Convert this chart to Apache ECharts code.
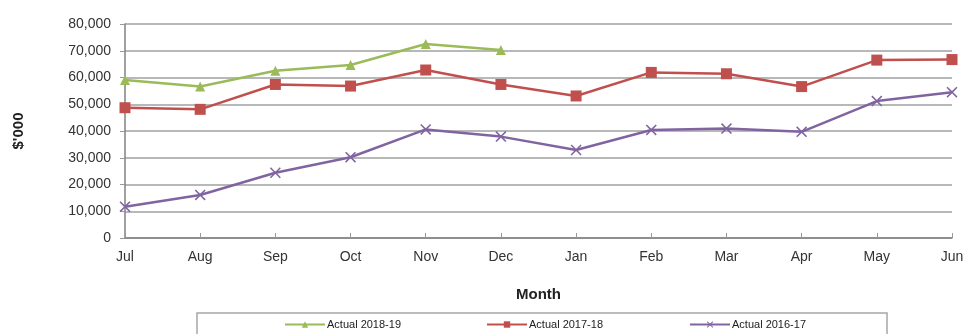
<!DOCTYPE html>
<html>
<head>
<meta charset="utf-8">
<script src="https://cdn.jsdelivr.net/npm/echarts@6/dist/echarts.min.js"></script>
<style>
  html, body { margin: 0; padding: 0; background: #fff; }
  #chart { width: 965px; height: 334px; }
</style>
</head>
<body>
<div id="chart"></div>
<script>
// Monthly actuals ($'000) by financial year
const months = ['Jul', 'Aug', 'Sep', 'Oct', 'Nov', 'Dec', 'Jan', 'Feb', 'Mar', 'Apr', 'May', 'Jun'];
const actual201819 = [59100, 56600, 62500, 64700, 72500, 70300, null, null, null, null, null, null];
const actual201718 = [48700, 48100, 57400, 56800, 62800, 57400, 53100, 61900, 61400, 56600, 66500, 66700];
const actual201617 = [11700, 16100, 24400, 30200, 40600, 37900, 32900, 40400, 40900, 39700, 51200, 54500];
const seriesNames = ['Actual 2018-19', 'Actual 2017-18', 'Actual 2016-17'];

const FONT = '"Liberation Sans", Arial, sans-serif';
const crossPath = 'path://M0,1L1,0L5,4L9,0L10,1L6,5L10,9L9,10L5,6L1,10L0,9L4,5Z';

const chart = echarts.init(document.getElementById('chart'), null, { renderer: 'canvas' });

function legendAt(name, left) {
  return {
    data: [name],
    left: left,
    top: 319,
    itemWidth: 40,
    itemHeight: 8,
    itemGap: 0,
    padding: 0,
    textStyle: { fontFamily: FONT, fontSize: 11, color: '#222', padding: [0, 0, 0, -3] },
    selectedMode: false
  };
}

chart.setOption({
  animation: false,
  backgroundColor: '#fff',
  grid: { left: 125, right: 13, top: 24, bottom: 96, outerBoundsMode: 'none', containLabel: false },
  graphic: [{
    type: 'rect',
    shape: { x: 197, y: 313, width: 690, height: 40 },
    style: { fill: 'none', stroke: '#a6a6a6', lineWidth: 1.5 },
    silent: true
  }],
  legend: [
    legendAt(seriesNames[0], 284),
    legendAt(seriesNames[1], 486),
    legendAt(seriesNames[2], 689)
  ],
  xAxis: {
    type: 'category',
    data: months,
    boundaryGap: false,
    name: 'Month',
    nameLocation: 'middle',
    nameGap: 49,
    nameTextStyle: { fontFamily: FONT, fontSize: 15, fontWeight: 'bold', color: '#222' },
    axisLine: { lineStyle: { color: '#808080', width: 1.5 } },
    axisTick: { show: true, inside: true, length: 5, alignWithLabel: true, lineStyle: { color: '#999' } },
    axisLabel: { fontFamily: FONT, fontSize: 14, color: '#333', margin: 12 },
    splitLine: { show: false }
  },
  yAxis: {
    type: 'value',
    min: 0,
    max: 80000,
    interval: 10000,
    name: "$'000",
    nameLocation: 'middle',
    nameGap: 99,
    nameRotate: 90,
    nameTextStyle: { fontFamily: FONT, fontSize: 15, fontWeight: 'bold', color: '#222' },
    axisLine: { show: true, lineStyle: { color: '#808080', width: 1.5 } },
    axisTick: { show: true, length: 5, lineStyle: { color: '#999' } },
    axisLabel: {
      fontFamily: FONT, fontSize: 14, color: '#333', margin: 14,
      formatter: v => v.toLocaleString('en-US')
    },
    splitLine: { lineStyle: { color: '#a0a0a0', width: 1.5 } }
  },
  series: [
    {
      name: seriesNames[0],
      type: 'line',
      data: actual201819,
      color: '#9bbb59',
      symbol: 'triangle',
      symbolSize: 10,
      lineStyle: { width: 2.5 },
      z: 4
    },
    {
      name: seriesNames[1],
      type: 'line',
      data: actual201718,
      color: '#c0504d',
      symbol: 'rect',
      symbolSize: 11,
      lineStyle: { width: 2.5 },
      z: 3
    },
    {
      name: seriesNames[2],
      type: 'line',
      data: actual201617,
      color: '#8064a2',
      symbol: crossPath,
      symbolSize: 11,
      lineStyle: { width: 2.5 },
      z: 2
    }
  ]
});
</script>
</body>
</html>
